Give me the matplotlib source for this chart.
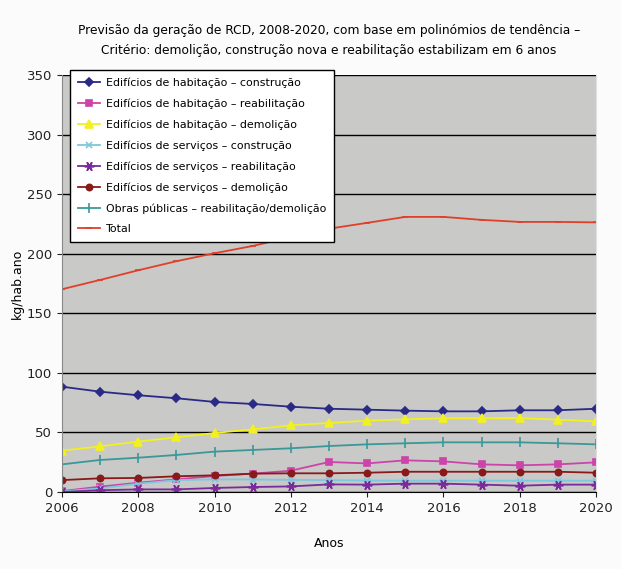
import matplotlib.pyplot as plt

plt.rcParams['font.family'] = ['DejaVu Sans']

# datas
anos = list(range(2006, 2021))
hab_construcao = [88.4, 84.2, 81.2, 78.7, 75.6, 73.9, 71.6, 69.9, 69.1, 68.3, 67.7, 67.7, 68.6, 68.6, 69.9]
hab_reabilitacao = [0.8, 4.5, 7.8, 10.6, 13.4, 15.4, 17.9, 25.2, 24.0, 26.6, 25.7, 23.2, 22.4, 23.2, 24.9]
hab_demolicao = [34.7, 38.3, 42.3, 45.9, 49.5, 52.6, 56.0, 57.9, 59.9, 61.0, 61.9, 61.9, 62.1, 60.7, 59.3]
serv_construcao = [0.5, 3.0, 7.0, 10.0, 10.6, 10.5, 10.2, 10.0, 9.6, 9.5, 9.5, 9.5, 9.5, 9.5, 9.5]
serv_reabilitacao = [0.0, 1.5, 2.2, 2.2, 3.4, 4.2, 4.7, 6.4, 6.2, 7.0, 7.0, 6.2, 5.3, 6.2, 6.2]
serv_demolicao = [10.0, 11.5, 11.8, 13.2, 14.0, 15.4, 15.7, 15.7, 16.2, 17.0, 17.0, 17.0, 17.0, 17.0, 16.2]
obras_publicas = [23.2, 26.9, 28.8, 31.1, 33.9, 35.3, 36.7, 38.6, 40.0, 40.9, 41.7, 41.7, 41.7, 40.9, 40.0]
total = [170.2, 178.0, 186.1, 193.7, 200.4, 206.5, 214.0, 221.0, 225.9, 230.9, 230.9, 228.4, 226.7, 226.7, 226.3]

series = [
    ('Edifícios de habitação – construção', hab_construcao, '#2a2a86', 'D', 4.5),
    ('Edifícios de habitação – reabilitação', hab_reabilitacao, '#cc44aa', 's', 5),
    ('Edifícios de habitação – demolição', hab_demolicao, '#f2f020', '^', 6),
    ('Edifícios de serviços – construção', serv_construcao, '#7cc8dc', 'x', 5),
    ('Edifícios de serviços – reabilitação', serv_reabilitacao, '#7a2a9a', (6, 2, 90), 7),
    ('Edifícios de serviços – demolição', serv_demolicao, '#8a1a1a', 'o', 4.5),
    ('Obras públicas – reabilitação/demolição', obras_publicas, '#3a9898', '|', 7),
    ('Total', total, '#e0402a', '_', 4),
]

fig = plt.figure(figsize=(6.21, 5.69), dpi=100, facecolor='#fbfbfb')
ax = fig.add_axes([0.0998, 0.1353, 0.86, 0.7329])
ax.set_facecolor('#c9c9c7')

for nome, vals, cor, mk, ms in series:
    ax.plot(anos, vals, color=cor, marker=mk, markersize=ms, linewidth=1.3,
            markeredgewidth=1.2, label=nome)

ax.set_xlim(2006, 2020)
ax.set_ylim(0, 350)
ax.set_xticks(range(2006, 2021, 2))
ax.set_yticks(range(0, 351, 50))
ax.yaxis.grid(True, color='black', linewidth=1)
ax.set_axisbelow(True)
ax.tick_params(labelsize=9.5, colors='#222222')
ax.spines['left'].set_color('#888888')
ax.spines['bottom'].set_color('black')
ax.spines['top'].set_visible(False)
ax.spines['right'].set_color('#e0e0e0')

ax.set_xlabel('Anos', fontsize=9, labelpad=16)
ax.set_ylabel('kg/hab.ano', fontsize=9, labelpad=2)
ax.set_title('Previsão da geração de RCD, 2008-2020, com base em polinómios de tendência –\n'
             'Critério: demolição, construção nova e reabilitação estabilizam em 6 anos',
             fontsize=8.8, linespacing=1.75, pad=15)

leg = ax.legend(loc='upper left', bbox_to_anchor=(0.005, 1.025), fontsize=7.9, frameon=True,
                fancybox=False, edgecolor='black', framealpha=1, labelspacing=0.95,
                handlelength=2.0, handletextpad=0.6, borderpad=0.7)
leg.get_frame().set_linewidth(1)

plt.savefig('out.png', dpi=100, facecolor=fig.get_facecolor())
